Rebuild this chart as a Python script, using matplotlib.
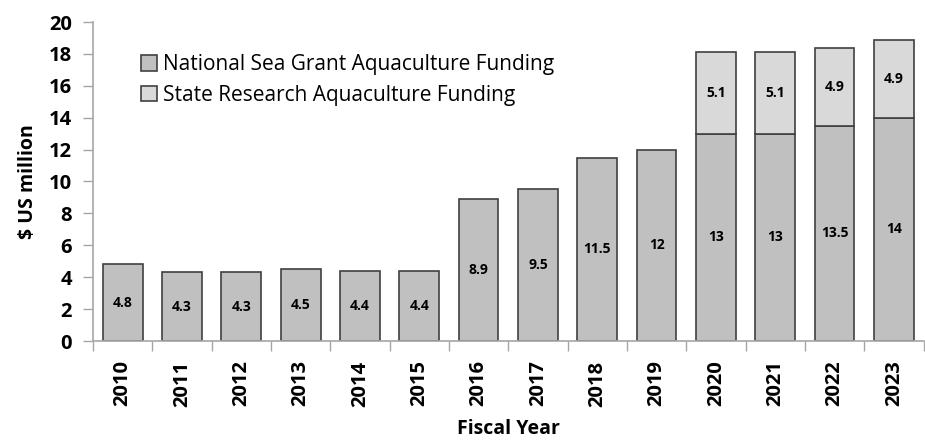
import matplotlib
matplotlib.use('Agg')
import matplotlib.pyplot as plt
import numpy as np

plt.rcParams['font.family'] = ['Open Sans', 'DejaVu Sans']

# data
years = ['2010', '2011', '2012', '2013', '2014', '2015', '2016',
         '2017', '2018', '2019', '2020', '2021', '2022', '2023']
sea_grant = [4.8, 4.3, 4.3, 4.5, 4.4, 4.4, 8.9, 9.5, 11.5, 12, 13, 13, 13.5, 14]
state_research = [0, 0, 0, 0, 0, 0, 0, 0, 0, 0, 5.1, 5.1, 4.9, 4.9]
sea_grant_labels = ['4.8', '4.3', '4.3', '4.5', '4.4', '4.4', '8.9',
                    '9.5', '11.5', '12', '13', '13', '13.5', '14']
state_labels = ['', '', '', '', '', '', '', '', '', '', '5.1', '5.1', '4.9', '4.9']

dark = '#c0c0c0'
light = '#d9d9d9'
edge = '#404040'
axcol = '#a6a6a6'

fig = plt.figure(figsize=(9.25, 4.4), dpi=100)
ax = fig.add_axes([0.1005, 0.225, 0.898, 0.725])

x = np.arange(len(years))
ax.bar(x, sea_grant, width=0.67, color=dark, edgecolor=edge, linewidth=1.2,
       label='National Sea Grant Aquaculture Funding')
# only draw the state segments that exist
idx = [i for i, v in enumerate(state_research) if v > 0]
ax.bar(x[idx], [state_research[i] for i in idx], width=0.67,
       bottom=[sea_grant[i] for i in idx], color=light, edgecolor=edge,
       linewidth=1.2, label='State Research Aquaculture Funding')

for i in range(len(years)):
    ax.text(x[i], sea_grant[i] / 2, sea_grant_labels[i], ha='center', va='center',
            fontsize=10, fontweight='bold', color='black')
    if state_labels[i]:
        ax.text(x[i], sea_grant[i] + state_research[i] / 2, state_labels[i],
                ha='center', va='center', fontsize=10, fontweight='bold', color='black')

ax.set_xlim(-0.5, len(years) - 0.5)
ax.set_ylim(0, 20)
ax.set_yticks(range(0, 21, 2))
ax.set_yticklabels([str(v) for v in range(0, 21, 2)], fontsize=14.5, fontweight='bold')
ax.set_xticks(x)
ax.set_xticklabels(years, rotation=90, fontsize=14.5, fontweight='bold')
ax.tick_params(axis='x', which='major', length=0, pad=14)
ax.set_xticks(np.arange(-0.5, len(years), 1), minor=True)
ax.tick_params(axis='x', which='minor', length=7, color=axcol, width=1)
ax.tick_params(axis='y', length=7, color=axcol, width=1, pad=8)

for s in ['top', 'right']:
    ax.spines[s].set_visible(False)
for s in ['left', 'bottom']:
    ax.spines[s].set_color(axcol)
    ax.spines[s].set_linewidth(1.2)

ax.set_ylabel('$ US million', fontsize=14, fontweight='bold', labelpad=8)
ax.set_xlabel('Fiscal Year', fontsize=14, fontweight='bold', labelpad=9)

leg = ax.legend(loc='upper left', bbox_to_anchor=(0.048, 0.925), frameon=False,
                fontsize=15, handlelength=0.75, handleheight=0.75, handletextpad=0.3,
                labelspacing=0.45, borderaxespad=0)

fig.savefig('out.png', dpi=100)
